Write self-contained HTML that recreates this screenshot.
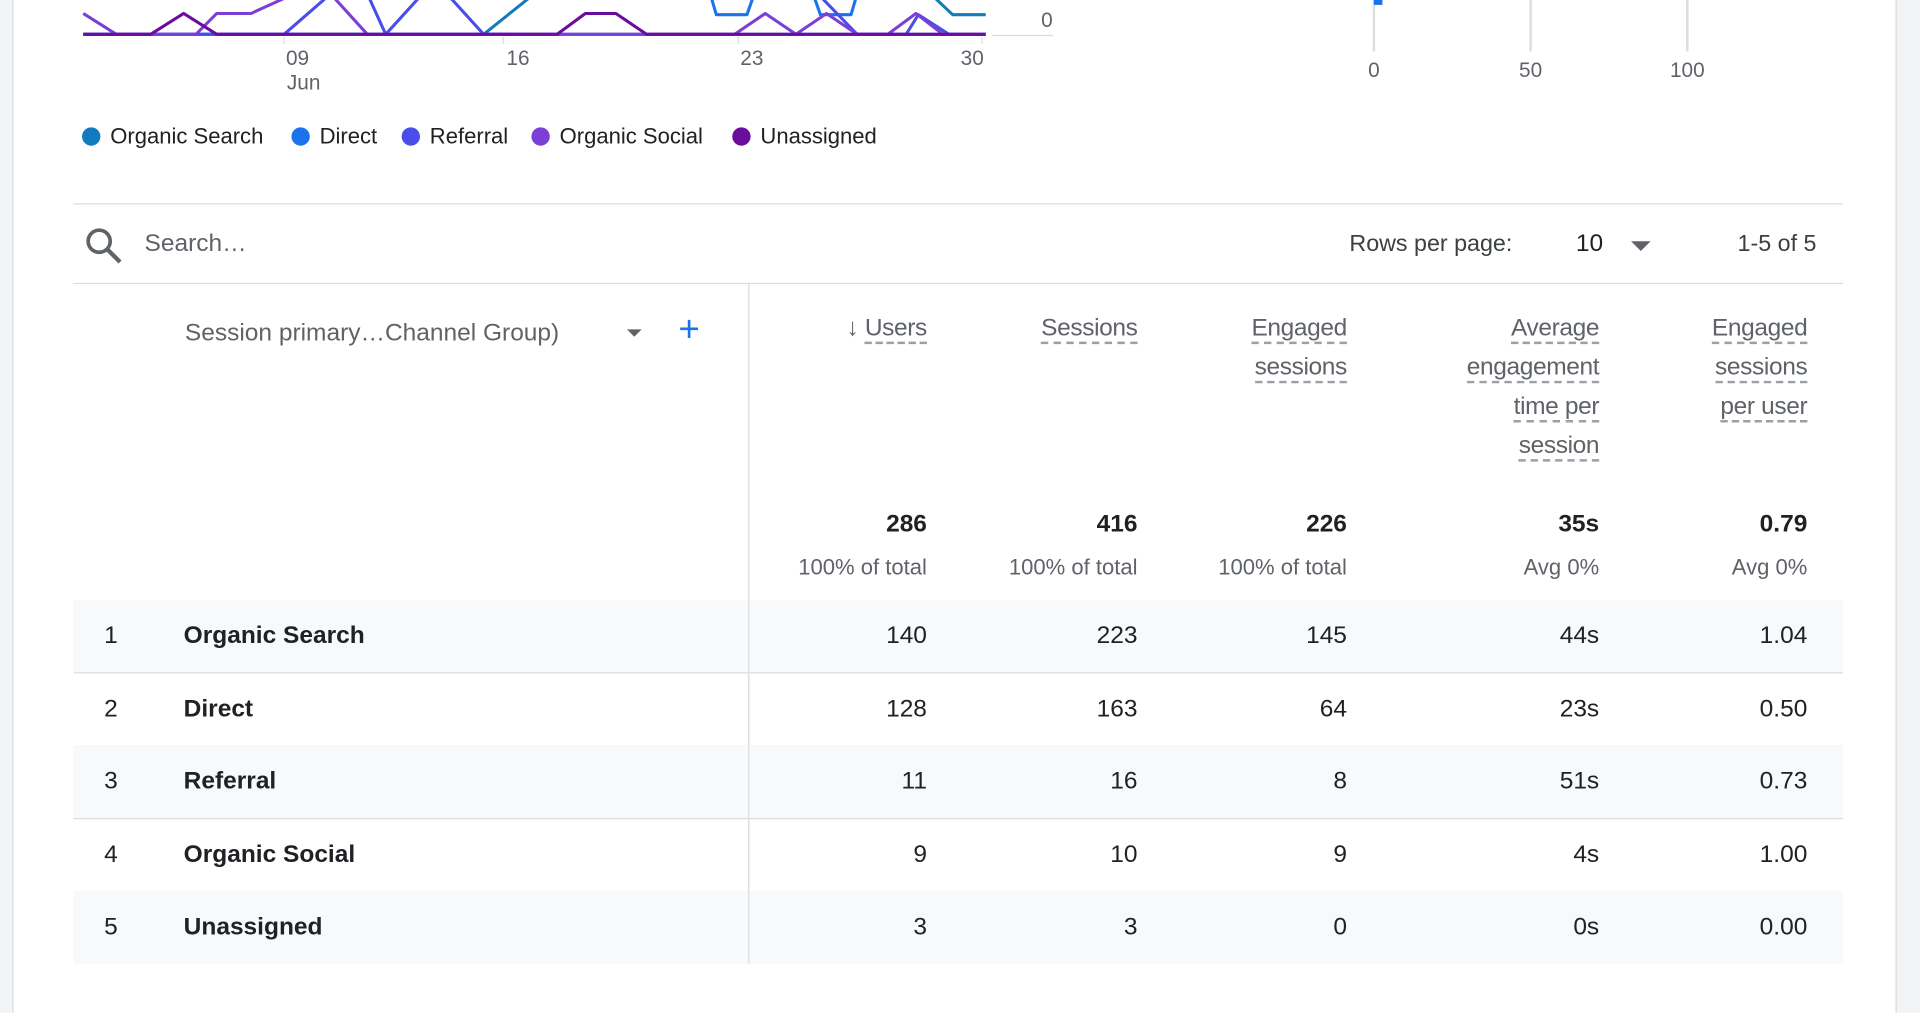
<!DOCTYPE html>
<html><head><meta charset="utf-8"><style>
html,body{margin:0;padding:0;background:#fff;overflow:hidden}
#root{position:absolute;left:0;top:0;width:1568px;height:827px;transform:scale(1.22449);transform-origin:0 0;font-family:"Liberation Sans",Arial,sans-serif;color:#202124;background:#fff}
.abs{position:absolute;white-space:nowrap}
.g{color:#5f6368}
.r{text-align:right}
.hl{position:absolute;height:1px;background:#dadce0}
.hd{position:absolute;right:0;text-align:right;font-size:20px;color:#5f6368;line-height:32px;letter-spacing:-0.3px}
.hd span{border-bottom:2px dashed #9aa0a6}
.row{position:absolute;left:60px;width:1445px;height:59px;border-bottom:1px solid #dadce0}
.row.a{background:#f8f9fa}
.row div{position:absolute;top:0;line-height:59px;font-size:20px}
.leg{position:absolute;top:101px;font-size:18px;line-height:20px;color:#202124}
.leg i{display:inline-block;width:15px;height:15px;border-radius:50%;vertical-align:-2px;margin-right:8px}
</style></head><body><div id="root">
<div class="abs" style="left:0;top:0;width:10px;height:827px;background:#f1f3f4;border-right:1px solid #dadce0"></div>
<div class="abs" style="left:1548px;top:0;width:20px;height:827px;background:#f1f3f4;border-left:1px solid #dadce0"></div>

<svg class="abs" style="left:0;top:0" width="1548" height="100">
<line x1="810" y1="29" x2="860" y2="29" stroke="#dadce0"/>
<line x1="232" y1="30" x2="232" y2="36" stroke="#dadce0"/>
<line x1="411" y1="30" x2="411" y2="36" stroke="#dadce0"/>
<line x1="603" y1="30" x2="603" y2="36" stroke="#dadce0"/>
<line x1="802" y1="30" x2="802" y2="36" stroke="#dadce0"/>
<g fill="none" stroke-width="2.5" stroke-linejoin="round">
<polyline stroke="#127bbd" points="68,28 395,28 440,-8"/>
<polyline stroke="#127bbd" points="760,-5 778,12 805,12"/>
<polyline stroke="#1a73e8" points="68,28 805,28"/>
<polyline stroke="#1a73e8" points="580,-5 585,12 610,12 616,-5"/>
<polyline stroke="#1a73e8" points="664,-5 670,12 695,12 700,-5"/>
<polyline stroke="#4a4de8" points="68,28 232,28 270,-5"/>
<polyline stroke="#4a4de8" points="300,-5 315,28 345,-5"/>
<polyline stroke="#4a4de8" points="365,-5 395,28 420,28"/>
<polyline stroke="#4a4de8" points="668,-5 700,28 740,28 750,12 775,28"/>
<polyline stroke="#7c3fd6" points="68,11 95,28 160,28 177,11 205,11 240,-5"/>
<polyline stroke="#7c3fd6" points="270,-5 300,28 600,28 625,11 650,28 675,11 700,28 725,28 748,11 770,28 805,28"/>
<polyline stroke="#6a0d9e" points="68,28 123,28 150,11 177,28 455,28 478,11 503,11 528,28 805,28"/>
</g>
<text x="855" y="22" font-size="17" fill="#5f6368" text-anchor="middle" font-family="Liberation Sans">0</text>
<g font-size="17" fill="#5f6368" font-family="Liberation Sans" text-anchor="middle">
<text x="243" y="53">09</text><text x="248" y="73">Jun</text>
<text x="423" y="53">16</text><text x="614" y="53">23</text><text x="794" y="53">30</text>
<text x="1122" y="63">0</text><text x="1250" y="63">50</text><text x="1378" y="63">100</text>
</g>
<g stroke="#dadce0" stroke-width="2"><line x1="1122" y1="0" x2="1122" y2="42"/><line x1="1250" y1="0" x2="1250" y2="42"/><line x1="1378" y1="0" x2="1378" y2="42"/></g>
<rect x="1122" y="0" width="7" height="4" fill="#1a73e8"/>
</svg>

<div class="leg" style="left:67px"><i style="background:#127bbd"></i>Organic Search</div>
<div class="leg" style="left:238px"><i style="background:#1a73e8"></i>Direct</div>
<div class="leg" style="left:328px"><i style="background:#4a4de8"></i>Referral</div>
<div class="leg" style="left:434px"><i style="background:#7c3fd6"></i>Organic Social</div>
<div class="leg" style="left:598px"><i style="background:#6a0d9e"></i>Unassigned</div>

<div class="hl" style="left:60px;top:166px;width:1445px"></div>
<svg class="abs" style="left:68px;top:184px" width="34" height="34"><circle cx="13" cy="13" r="9" fill="none" stroke="#5f6368" stroke-width="3"/><line x1="20" y1="20" x2="30" y2="30" stroke="#5f6368" stroke-width="3.5"/></svg>
<div class="abs g" style="left:118px;top:188px;font-size:20px">Search…</div>
<div class="abs" style="left:1102px;top:189px;font-size:19px;color:#3c4043">Rows per page:</div>
<div class="abs" style="left:1287px;top:188px;font-size:20px">10</div>
<div class="abs" style="left:1332px;top:197px;width:0;height:0;border-left:8px solid transparent;border-right:8px solid transparent;border-top:8px solid #5f6368"></div>
<div class="abs" style="left:1419px;top:189px;font-size:19px;color:#3c4043">1-5 of 5</div>
<div class="hl" style="left:60px;top:231px;width:1445px"></div>

<div class="abs" style="left:611px;top:231px;width:1px;height:556px;background:#dadce0"></div>
<div class="abs g" style="left:151px;top:261px;font-size:20px">Session primary…Channel Group)</div>
<div class="abs" style="left:512px;top:269px;border-left:6px solid transparent;border-right:6px solid transparent;border-top:6px solid #5f6368"></div>
<div class="abs" style="left:554px;top:253px;font-size:30px;color:#1a73e8;font-weight:300">+</div>

<div class="abs" style="left:0;top:252px;width:757px"><div class="hd"><b style="font-weight:bold;color:#5f6368">↓</b> <span>Users</span></div></div>
<div class="abs" style="left:0;top:252px;width:929px"><div class="hd"><span>Sessions</span></div></div>
<div class="abs" style="left:0;top:252px;width:1100px"><div class="hd"><span>Engaged</span><br><span>sessions</span></div></div>
<div class="abs" style="left:0;top:252px;width:1306px"><div class="hd"><span>Average</span><br><span>engagement</span><br><span>time per</span><br><span>session</span></div></div>
<div class="abs" style="left:0;top:252px;width:1476px"><div class="hd"><span>Engaged</span><br><span>sessions</span><br><span>per user</span></div></div>

<div class="abs r" style="right:811px;top:417px;font-size:20px;font-weight:bold">286</div>
<div class="abs r" style="right:639px;top:417px;font-size:20px;font-weight:bold">416</div>
<div class="abs r" style="right:468px;top:417px;font-size:20px;font-weight:bold">226</div>
<div class="abs r" style="right:262px;top:417px;font-size:20px;font-weight:bold">35s</div>
<div class="abs r" style="right:92px;top:417px;font-size:20px;font-weight:bold">0.79</div>
<div class="abs r g" style="right:811px;top:453px;font-size:18px">100% of total</div>
<div class="abs r g" style="right:639px;top:453px;font-size:18px">100% of total</div>
<div class="abs r g" style="right:468px;top:453px;font-size:18px">100% of total</div>
<div class="abs r g" style="right:262px;top:453px;font-size:18px">Avg 0%</div>
<div class="abs r g" style="right:92px;top:453px;font-size:18px">Avg 0%</div>
<div class="hl" style="left:60px;top:490px;width:1445px"></div>

<div class="row a" style="top:490px"><div style="left:25px">1</div><div style="left:90px;font-weight:bold">Organic Search</div><div style="right:748px">140</div><div style="right:576px">223</div><div style="right:405px">145</div><div style="right:199px">44s</div><div style="right:29px">1.04</div></div>
<div class="row" style="top:550px"><div style="left:25px">2</div><div style="left:90px;font-weight:bold">Direct</div><div style="right:748px">128</div><div style="right:576px">163</div><div style="right:405px">64</div><div style="right:199px">23s</div><div style="right:29px">0.50</div></div>
<div class="row a" style="top:609px"><div style="left:25px">3</div><div style="left:90px;font-weight:bold">Referral</div><div style="right:748px">11</div><div style="right:576px">16</div><div style="right:405px">8</div><div style="right:199px">51s</div><div style="right:29px">0.73</div></div>
<div class="row" style="top:669px"><div style="left:25px">4</div><div style="left:90px;font-weight:bold">Organic Social</div><div style="right:748px">9</div><div style="right:576px">10</div><div style="right:405px">9</div><div style="right:199px">4s</div><div style="right:29px">1.00</div></div>
<div class="row a" style="top:728px;border-bottom:0"><div style="left:25px">5</div><div style="left:90px;font-weight:bold">Unassigned</div><div style="right:748px">3</div><div style="right:576px">3</div><div style="right:405px">0</div><div style="right:199px">0s</div><div style="right:29px">0.00</div></div>
<div class="abs" style="left:611px;top:490px;width:1px;height:297px;background:#dadce0"></div>
</div></body></html>
